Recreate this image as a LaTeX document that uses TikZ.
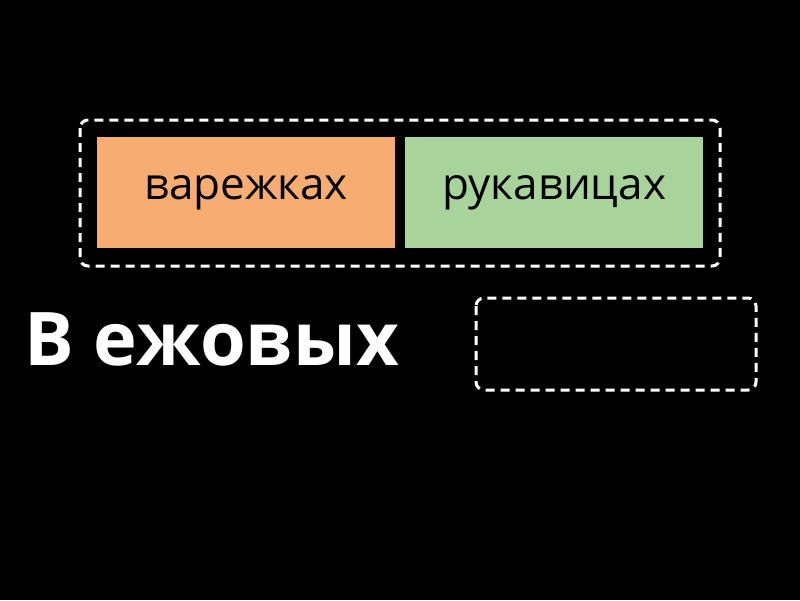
\documentclass[tikz,border=0pt]{standalone}
\usepackage{fontspec}
\setmainfont{Open Sans}
\begin{document}
\begin{tikzpicture}[x=1pt,y=-1pt,
  dbox/.style={draw=white,line width=3pt,dash pattern=on 9pt off 6pt,rounded corners=8pt},
  card/.style={inner sep=0pt,minimum width=298pt,minimum height=111pt,font=\fontsize{44}{48}\selectfont,text=black}]
\fill[black] (0,0) rectangle (800,600);
\useasboundingbox (0,0) rectangle (800,600);
\draw[dbox] (80,120) rectangle (720,266);
\node[card,fill={rgb,255:red,247;green,173;blue,114}] (a) at (246,192.5) {варежках};
\node[card,fill={rgb,255:red,168;green,211;blue,154}] (b) at (554,192.5) {рукавицах};
\node[anchor=base west,inner sep=0pt,text=white,font=\fontsize{74}{80}\selectfont\bfseries] (t) at (24,365) {В ежовых};
\draw[dbox] (476,298) rectangle (756,390);
\end{tikzpicture}
\end{document}
